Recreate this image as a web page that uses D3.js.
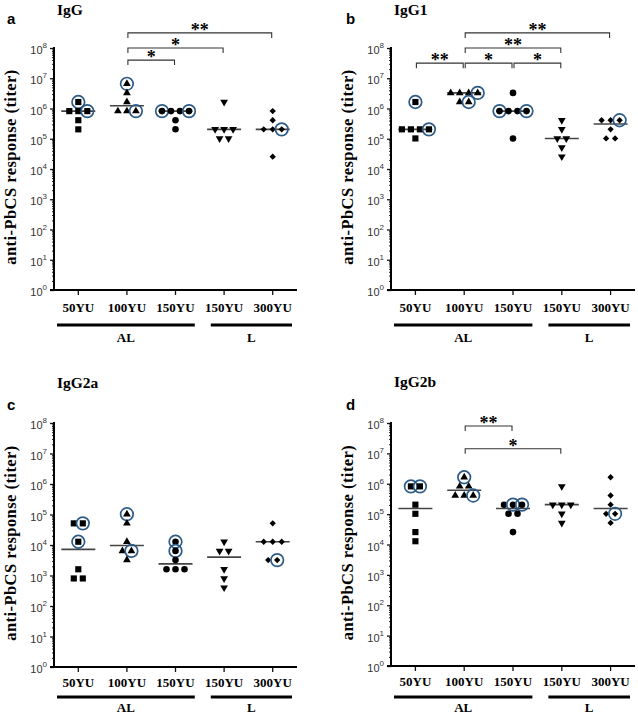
<!DOCTYPE html>
<html><head><meta charset="utf-8">
<script src="https://cdn.jsdelivr.net/npm/d3@7"></script>
<style>body{margin:0;background:#fff}svg{display:block}</style>
</head><body><svg id="chart" width="638" height="716"></svg>
<script>
// ---------- data ----------
const categories = ["50YU", "100YU", "150YU", "150YU", "300YU"];
const groupNames = ["AL", "L"];
const groupSpans = [[0, 2], [3, 4]];
const yTickExponents = [0, 1, 2, 3, 4, 5, 6, 7, 8];
const panelTitles = ["IgG", "IgG1", "IgG2a", "IgG2b"];
const panelLetters = ["a", "b", "c", "d"];

// titers per group (rows listed left to right)
const igG = [
  [1638400, 819200, 819200, 819200, 409600, 204800],
  [6553600, 3276800, 1638400, 819200, 819200, 819200],
  [819200, 819200, 819200, 819200, 409600, 204800],
  [1638400, 204800, 204800, 204800, 102400, 102400],
  [819200, 409600, 204800, 204800, 204800, 25600]
];
const igGCircled = [[1,0,0,1,0,0],[1,0,0,0,0,1],[1,0,0,1,0,0],[0,0,0,0,0,0],[0,0,0,0,1,0]];

const igG1 = [
  [1638400, 204800, 204800, 204800, 204800, 102400],
  [3276800, 3276800, 3276800, 3276800, 1638400, 1638400],
  [3276800, 819200, 819200, 819200, 819200, 102400],
  [409600, 204800, 102400, 102400, 51200, 25600],
  [409600, 409600, 409600, 204800, 102400, 102400]
];
const igG1Circled = [[1,0,0,0,1,0],[0,0,0,1,0,1],[0,1,0,0,1,0],[0,0,0,0,0,0],[0,0,1,0,0,0]];

const igG2a = [
  [51200, 51200, 12800, 1600, 800, 800],
  [102400, 51200, 12800, 6400, 6400, 3200],
  [12800, 6400, 3200, 1600, 1600, 1600],
  [12800, 6400, 6400, 1600, 800, 400],
  [51200, 12800, 12800, 12800, 3200, 3200]
];
const igG2aCircled = [[0,1,1,0,0,0],[1,0,0,0,1,0],[1,1,0,0,0,0],[0,0,0,0,0,0],[0,0,0,0,0,1]];

const igG2b = [
  [819200, 819200, 204800, 102400, 25600, 12800],
  [1638400, 819200, 819200, 409600, 409600, 409600],
  [204800, 204800, 204800, 102400, 102400, 25600],
  [819200, 204800, 204800, 204800, 102400, 51200],
  [1638400, 409600, 204800, 102400, 102400, 51200]
];
const igG2bCircled = [[1,1,0,0,0,0],[1,0,0,0,0,1],[0,1,1,0,0,0],[0,0,0,0,0,0],[0,0,0,0,1,0]];

// significance brackets: [from group, to group], labels
const igGPairs = [[1, 2], [1, 3], [1, 4]];
const igGStars = ["*", "*", "**"];
const igG1Pairs = [[0, 1], [1, 2], [2, 3], [1, 3], [1, 4]];
const igG1Stars = ["**", "*", "*", "**", "**"];
const igG2aPairs = [];
const igG2aStars = [];
const igG2bPairs = [[1, 2], [1, 3]];
const igG2bStars = ["**", "*"];

// ---------- layout ----------
const layouts = [
  {left: 54, right: 297, top: 48, bottom: 290, tickLab: 22, grpLine: 35, grpLab: 52, titleY: 15, letterX: 7, letterY: 24, brLevels: [7.6, 8.0, 8.5]},
  {left: 391, right: 635, top: 48, bottom: 290, tickLab: 22, grpLine: 35, grpLab: 52, titleY: 15, letterX: 346, letterY: 24, brLevels: [7.5, 7.5, 7.5, 8.0, 8.5]},
  {left: 54, right: 297, top: 423, bottom: 667, tickLab: 20, grpLine: 30, grpLab: 45, titleY: 388, letterX: 7, letterY: 410, brLevels: []},
  {left: 391, right: 635, top: 423, bottom: 666, tickLab: 20, grpLine: 31, grpLab: 46, titleY: 387, letterX: 346, letterY: 410, brLevels: [7.9, 7.15]}
];
const panelValues = [igG, igG1, igG2a, igG2b];
const panelCircled = [igGCircled, igG1Circled, igG2aCircled, igG2bCircled];
const panelPairs = [igGPairs, igG1Pairs, igG2aPairs, igG2bPairs];
const panelStars = [igGStars, igG1Stars, igG2aStars, igG2bStars];

const serif = "'Liberation Serif', 'Times New Roman', serif";
const sans = "'Liberation Sans', Arial, sans-serif";
const ringColor = "#2d5b88";
const spacing = 9;

const symbols = [
  {type: d3.symbolSquare, size: 38, rot: 0},
  {type: d3.symbolTriangle, size: 26, rot: 0},
  {type: d3.symbolCircle, size: 34, rot: 0},
  {type: d3.symbolTriangle, size: 26, rot: 180},
  {type: d3.symbolSquare, size: 20, rot: 45}
];

const svg = d3.select("#chart");

panelTitles.forEach((title, p) => {
  const L = layouts[p];
  const g = svg.append("g");
  const x = d3.scaleBand().domain(d3.range(categories.length)).range([L.left, L.right]);
  const y = d3.scaleLog().domain([1, 1e8]).range([L.bottom, L.top]);
  const cx = i => x(i) + x.bandwidth() / 2;

  // title + letter
  g.append("text").attr("x", L.left + 3).attr("y", L.titleY)
    .attr("font-family", serif).attr("font-weight", "bold").attr("font-size", 15.5).text(title);
  g.append("text").attr("x", L.letterX).attr("y", L.letterY)
    .attr("font-family", sans).attr("font-weight", "bold").attr("font-size", 15).text(panelLetters[p]);

  // y axis label
  const midY = (L.top + L.bottom) / 2 - 2;
  g.append("text").attr("transform", `translate(${L.left - 38},${midY}) rotate(-90)`)
    .attr("text-anchor", "middle").attr("font-family", serif).attr("font-weight", "bold")
    .attr("font-size", 16.5).attr("letter-spacing", 0.45).text("anti-PbCS response (titer)");

  // y axis: minor ticks
  const minors = [];
  for (let e = 0; e < 8; e++) for (let m = 2; m <= 9; m++) minors.push(m * Math.pow(10, e));
  const yMinor = g.append("g").attr("transform", `translate(${L.left},0)`)
    .call(d3.axisLeft(y).tickValues(minors).tickSize(2).tickFormat(""));
  yMinor.select(".domain").remove();
  yMinor.selectAll("line").attr("stroke", "#222").attr("stroke-width", 1);
  // major ticks
  const yMajor = g.append("g").attr("transform", `translate(${L.left},0)`)
    .call(d3.axisLeft(y).tickValues(yTickExponents.map(e => Math.pow(10, e))).tickSize(4).tickFormat(""));
  yMajor.select(".domain").remove();
  yMajor.selectAll("line").attr("stroke", "#111").attr("stroke-width", 1.3);
  // major labels 10^n
  yTickExponents.forEach(e => {
    const t = g.append("text").attr("x", L.left - 7).attr("y", y(Math.pow(10, e)) + 6)
      .attr("text-anchor", "end").attr("font-family", sans).attr("font-size", 11).attr("fill", "#333");
    t.append("tspan").text("10");
    t.append("tspan").attr("font-size", 8).attr("dy", -6).text(e);
  });
  g.append("line").attr("x1", L.left).attr("x2", L.left).attr("y1", L.top - 1).attr("y2", L.bottom + 1)
    .attr("stroke", "#000").attr("stroke-width", 2);

  // x axis
  const xAx = g.append("g").attr("transform", `translate(0,${L.bottom})`)
    .call(d3.axisBottom(x).tickSize(5).tickFormat(""));
  xAx.select(".domain").remove();
  xAx.selectAll("line").attr("stroke", "#111").attr("stroke-width", 1.3);
  g.append("line").attr("x1", L.left - 4).attr("x2", L.right).attr("y1", L.bottom).attr("y2", L.bottom)
    .attr("stroke", "#000").attr("stroke-width", 2);
  categories.forEach((c, i) => {
    g.append("text").attr("x", cx(i)).attr("y", L.bottom + L.tickLab).attr("text-anchor", "middle")
      .attr("font-family", serif).attr("font-weight", "bold").attr("font-size", 13).text(c);
  });
  // group lines
  groupNames.forEach((name, k) => {
    const [a, b] = groupSpans[k];
    const x1 = x(a) + (k === 0 ? 3 : 11), x2 = x(b) + x.bandwidth() - 5;
    g.append("line").attr("x1", x1).attr("x2", x2)
      .attr("y1", L.bottom + L.grpLine).attr("y2", L.bottom + L.grpLine)
      .attr("stroke", "#000").attr("stroke-width", 3);
    g.append("text").attr("x", (x1 + x2) / 2).attr("y", L.bottom + L.grpLab).attr("text-anchor", "middle")
      .attr("font-family", serif).attr("font-weight", "bold").attr("font-size", 13).text(name);
  });

  // brackets
  panelPairs[p].forEach((pair, k) => {
    const yy = y(Math.pow(10, L.brLevels[k]));
    const x1 = cx(pair[0]) + 1, x2 = cx(pair[1]) - 1;
    g.append("path").attr("d", `M${x1},${yy + 5}V${yy}H${x2}V${yy + 5}`)
      .attr("fill", "none").attr("stroke", "#333").attr("stroke-width", 1.1);
    g.append("text").attr("x", (x1 + x2) / 2).attr("y", yy + 3).attr("text-anchor", "middle")
      .attr("font-family", serif).attr("font-weight", "bold").attr("font-size", 18).text(panelStars[p][k]);
  });

  // data
  panelValues[p].forEach((vals, gi) => {
    const med = d3.median(vals);
    g.append("line").attr("x1", cx(gi) - 17).attr("x2", cx(gi) + 17)
      .attr("y1", y(med)).attr("y2", y(med)).attr("stroke", "#444").attr("stroke-width", 1.6);
    const counts = d3.rollup(vals, v => v.length, d => d);
    const seen = new Map();
    const sym = symbols[gi];
    vals.forEach((v, i) => {
      const n = counts.get(v), k = seen.get(v) || 0;
      seen.set(v, k + 1);
      const px = cx(gi) + (k - (n - 1) / 2) * spacing, py = y(v);
      g.append("path").attr("d", d3.symbol().type(sym.type).size(sym.size)())
        .attr("transform", `translate(${px},${py}) rotate(${sym.rot})`).attr("fill", "#000");
      if (panelCircled[p][gi][i]) {
        g.append("circle").attr("cx", px).attr("cy", py).attr("r", 6.3)
          .attr("fill", "none").attr("stroke", ringColor).attr("stroke-width", 1.7);
      }
    });
  });
});
</script>
</body></html>
